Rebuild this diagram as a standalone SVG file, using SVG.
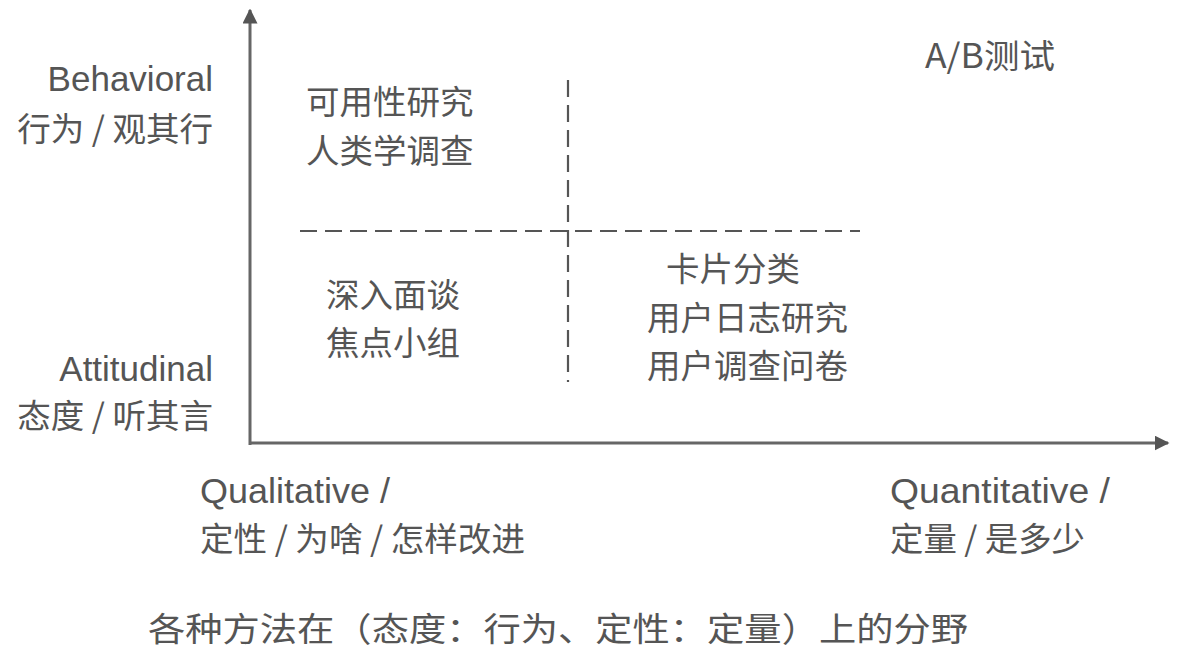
<svg xmlns="http://www.w3.org/2000/svg" width="1196" height="667" viewBox="0 0 1196 667">
<style>
.t{font-family:"Liberation Sans","Noto Sans CJK SC",sans-serif;font-size:35px;fill:#555}
.c{font-family:"Noto Sans CJK SC","Liberation Sans",sans-serif;font-size:33.5px;fill:#555}
.ax{stroke:#666;stroke-width:3;fill:none}
.ds{stroke:#555;stroke-width:2.2;stroke-dasharray:17 8;fill:none}
</style>
<defs>
<marker id="ah" viewBox="0 0 10 10" refX="9" refY="5" markerWidth="5" markerHeight="5" orient="auto" markerUnits="strokeWidth">
<path d="M0,0 L10,5 L0,10 z" fill="#555"/>
</marker>
</defs>
<rect width="1196" height="667" fill="#fff"/>
<g id="connectors">
<line class="ax" x1="250" y1="445" x2="250" y2="10" marker-end="url(#ah)"/>
<line class="ax" x1="249" y1="443" x2="1168" y2="443" marker-end="url(#ah)"/>
<line class="ds" x1="300" y1="231" x2="860" y2="231"/>
<line class="ds" x1="568" y1="80" x2="568" y2="382"/>
</g>
<g id="y-labels">
<text class="t" x="213" y="91" text-anchor="end" font-size="36">Behavioral</text>
<text class="c" x="213" y="141" text-anchor="end">行为 / 观其行</text>
<text class="t" x="213" y="381" text-anchor="end" font-size="36">Attitudinal</text>
<text class="c" x="213" y="428" text-anchor="end">态度 / 听其言</text>
</g>
<g id="x-labels">
<text class="t" x="200" y="503" textLength="190" lengthAdjust="spacingAndGlyphs">Qualitative /</text>
<text class="c" x="200" y="551" textLength="325" lengthAdjust="spacingAndGlyphs">定性 / 为啥 / 怎样改进</text>
<text class="t" x="890" y="503" textLength="220" lengthAdjust="spacingAndGlyphs">Quantitative /</text>
<text class="c" x="890" y="551" textLength="195" lengthAdjust="spacingAndGlyphs">定量 / 是多少</text>
</g>
<g id="q-top-left">
<text class="c" x="306" y="114">可用性研究</text>
<text class="c" x="306" y="163">人类学调查</text>
</g>
<g id="q-top-right">
<text class="c" x="925" y="68" textLength="130" lengthAdjust="spacingAndGlyphs">A/B测试</text>
</g>
<g id="q-bottom-left">
<text class="c" x="326" y="307">深入面谈</text>
<text class="c" x="326" y="355">焦点小组</text>
</g>
<g id="q-bottom-right">
<text class="c" x="666" y="281">卡片分类</text>
<text class="c" x="647" y="330">用户日志研究</text>
<text class="c" x="647" y="378">用户调查问卷</text>
</g>
<g id="caption">
<text class="c" x="148" y="641" font-size="34" textLength="820" lengthAdjust="spacingAndGlyphs">各种方法在（态度：行为、定性：定量）上的分野</text>
</g>
</svg>
